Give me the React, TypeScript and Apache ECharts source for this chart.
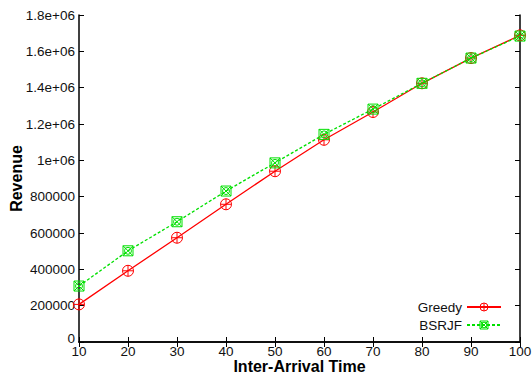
import React, { useEffect, useRef } from "react";
import * as echarts from "echarts";

const interArrival = [10, 20, 30, 40, 50, 60, 70, 80, 90, 100];
const greedyRevenue = [207000, 392000, 574000, 758000, 940000, 1113000, 1266000, 1424000, 1563000, 1688000];
const bsrjfRevenue = [308000, 502000, 662000, 831000, 986000, 1143000, 1282000, 1424000, 1563000, 1684000];

const circlePlus = "path://M0,5A5,5 0 1,1 10,5A5,5 0 1,1 0,5ZM5,0L5,10M0,5L10,5";
const boxCross = "path://M0,0L10,0L10,10L0,10ZM0,0L10,10M10,0L0,10M1.5,5A3.5,3.5 0 1,1 8.5,5A3.5,3.5 0 1,1 1.5,5Z";

const RED = "#ff0000";
const GREEN = "#00e000";
const fontFamily = "Liberation Sans, Arial, sans-serif";

function fmtY(v: number): string {
  if (v === 0) return "{zero|0}";
  if (v >= 1e6) return `${Math.round((v / 1e6) * 10) / 10}e+06`;
  return String(v);
}

export default function App() {
  const ref = useRef<HTMLDivElement>(null);
  useEffect(() => {
    if (!ref.current) return;
    const chart = echarts.init(ref.current, undefined, { renderer: "svg" });
    const axisLine = { show: true, lineStyle: { color: "#000", width: 1.5 } };
    const tick = { show: true, inside: true, length: 5, lineStyle: { color: "#000", width: 1 } };
    const label = { color: "#111", fontSize: 13.5, fontFamily };
    const title = { color: "#000", fontSize: 16, fontWeight: "bold", fontFamily };
    const hollow = (c: string) => ({ color: "rgba(0,0,0,0)", borderColor: c, borderWidth: 1 });
    chart.setOption({
      animation: false,
      backgroundColor: "#fff",
      grid: { left: 79, right: 12, top: 15, bottom: 32, containLabel: false, outerBoundsMode: "none" },
      legend: {
        orient: "vertical",
        right: 25,
        bottom: 37,
        align: "right",
        itemWidth: 34,
        itemHeight: 10,
        itemGap: 4,
        textStyle: { color: "#111", fontSize: 13.5, fontFamily },
        data: [
          { name: "Greedy", itemStyle: hollow(RED) },
          { name: "BSRJF", itemStyle: hollow(GREEN) },
        ],
      },
      xAxis: [
        {
          type: "value",
          min: 10,
          max: 100,
          interval: 10,
          name: "Inter-Arrival Time",
          nameLocation: "middle",
          nameGap: 16,
          nameMoveOverlap: false,
          nameTextStyle: title,
          axisLine,
          axisTick: tick,
          axisLabel: { ...label, margin: 2 },
          splitLine: { show: false },
        },
        {
          type: "value",
          position: "top",
          min: 10,
          max: 100,
          interval: 10,
          axisLine,
          axisTick: tick,
          axisLabel: { show: false },
          splitLine: { show: false },
        },
      ],
      yAxis: [
        {
          type: "value",
          min: 0,
          max: 1800000,
          interval: 200000,
          name: "Revenue",
          nameLocation: "middle",
          nameGap: 55,
          nameMoveOverlap: false,
          nameTextStyle: title,
          axisLine,
          axisTick: tick,
          axisLabel: {
            ...label,
            margin: 4,
            formatter: fmtY,
            rich: { zero: { color: "#111", fontSize: 13.5, fontFamily, padding: [0, 0, 8, 0] } },
          },
          splitLine: { show: false },
        },
        {
          type: "value",
          position: "right",
          min: 0,
          max: 1800000,
          interval: 200000,
          axisLine,
          axisTick: tick,
          axisLabel: { show: false },
          splitLine: { show: false },
        },
      ],
      series: [
        {
          name: "Greedy",
          type: "line",
          data: interArrival.map((x, i) => [x, greedyRevenue[i]]),
          symbol: circlePlus,
          symbolSize: 11,
          color: RED,
          lineStyle: { color: RED, width: 1.3 },
          itemStyle: hollow(RED),
          z: 2,
        },
        {
          name: "BSRJF",
          type: "line",
          data: interArrival.map((x, i) => [x, bsrjfRevenue[i]]),
          symbol: boxCross,
          symbolSize: 10,
          color: GREEN,
          lineStyle: { color: GREEN, width: 1.3, type: [3, 2] },
          itemStyle: hollow(GREEN),
          z: 3,
        },
      ],
    });
    return () => chart.dispose();
  }, []);
  return <div ref={ref} style={{ width: 532, height: 374, position: "absolute", left: 0, top: 0 }} />;
}
